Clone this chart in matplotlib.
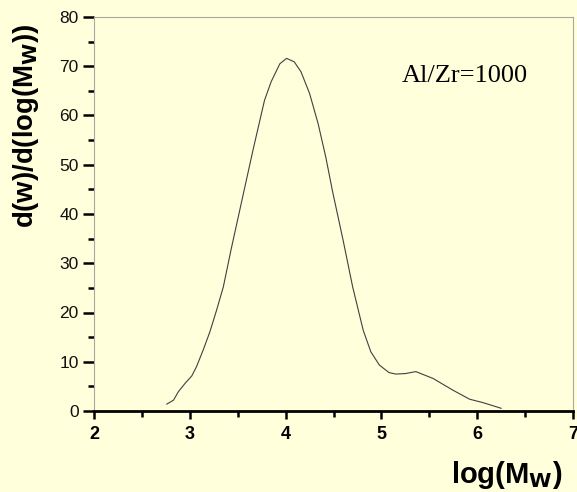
import matplotlib
matplotlib.use("Agg")
import matplotlib.pyplot as plt
from matplotlib.ticker import MultipleLocator

# molecular weight distribution
log_mw = [2.76, 2.83, 2.88, 2.95, 3.02, 3.07, 3.14, 3.21, 3.28, 3.35, 3.43,
          3.56, 3.66, 3.78, 3.85, 3.94, 4.01, 4.09, 4.16, 4.25, 4.34, 4.42,
          4.49, 4.60, 4.70, 4.81, 4.89, 4.98, 5.08, 5.15, 5.25, 5.36,
          5.54, 5.74, 5.92, 6.06, 6.25]
dw = [1.4, 2.2, 3.9, 5.6, 7.1, 9.0, 12.4, 16.1, 20.5, 25.2, 32.7,
      44.2, 53.0, 63.1, 66.9, 70.5, 71.6, 70.9, 68.9, 64.5, 58.3, 51.5,
      44.6, 34.7, 25.2, 16.4, 12.0, 9.3, 7.8, 7.5, 7.6, 8.0,
      6.6, 4.3, 2.4, 1.7, 0.55]

bg = '#FFFFDC'
W, H = 577, 492
fig = plt.figure(figsize=(W / 100, H / 100), dpi=100, facecolor=bg)
ax = fig.add_axes([94 / W, 81 / H, 479 / W, 394 / H], facecolor=bg)

ax.plot(log_mw, dw, color='#404040', lw=0.8)

ax.set_xlim(2, 7)
ax.set_ylim(0, 80)
ax.xaxis.set_major_locator(MultipleLocator(1))
ax.xaxis.set_minor_locator(MultipleLocator(0.5))
ax.yaxis.set_major_locator(MultipleLocator(10))
ax.yaxis.set_minor_locator(MultipleLocator(5))

for side in ['top', 'right', 'left']:
    ax.spines[side].set_color('#A8A8A0')
    ax.spines[side].set_linewidth(0.8)
ax.spines['bottom'].set_color('black')
ax.spines['bottom'].set_linewidth(2)

ax.tick_params(axis='y', which='major', direction='out', length=8, width=1.8,
               color='black', pad=3, labelsize=12.5, labelcolor='#111111')
ax.tick_params(axis='y', which='minor', direction='out', length=4, width=1.8,
               color='black')
ax.tick_params(axis='x', which='major', direction='out', length=6, width=1.8,
               color='black', pad=5, labelsize=13)
ax.tick_params(axis='x', which='minor', direction='out', length=4, width=1.8,
               color='black')
for lab in ax.get_yticklabels():
    lab.set_fontfamily('Liberation Sans')
for lab in ax.get_xticklabels():
    lab.set_fontfamily('Liberation Sans')
    lab.set_fontweight('bold')

ax.text(5.21, 66.8, 'Al/Zr=1000', family='Liberation Serif', fontsize=19,
        va='baseline', ha='left')

fig.text(507 / W, 9 / H, r'log(M$_\mathbf{W}$)', family='Liberation Sans',
         fontweight='bold', fontsize=21, ha='center', va='baseline')
fig.text(26 / W, (H - 126) / H, r'd(w)/d(log(M$_\mathbf{W}$))',
         family='Liberation Sans', fontweight='bold', fontsize=19.8,
         rotation=90, ha='center', va='center')

fig.savefig('out.png', dpi=100, facecolor=bg)
